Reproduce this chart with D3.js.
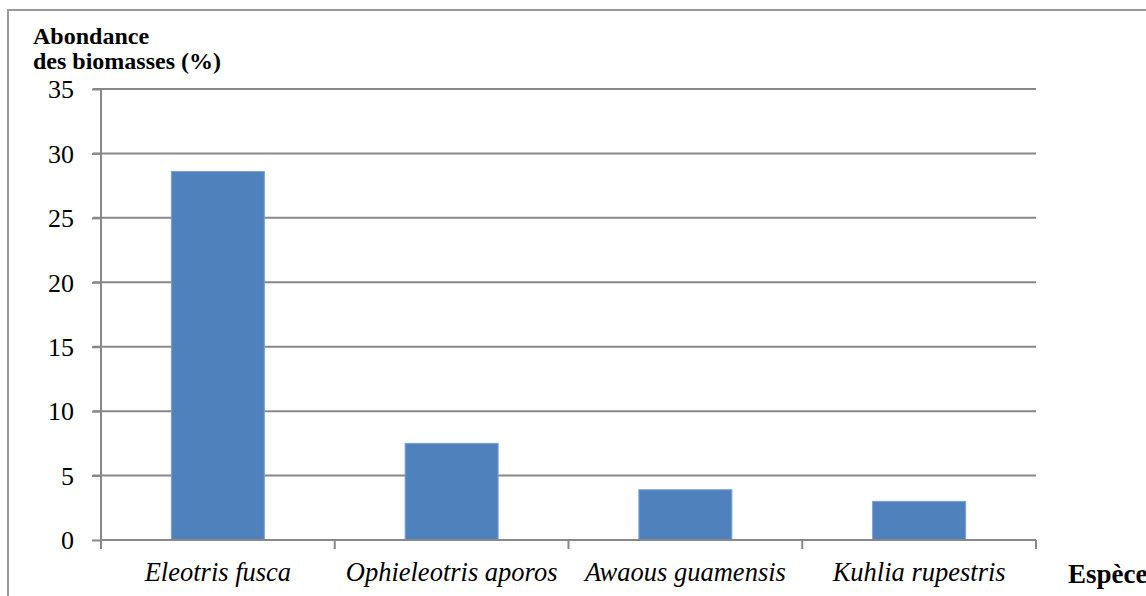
<!DOCTYPE html>
<html><head><meta charset="utf-8">
<script src="https://cdn.jsdelivr.net/npm/d3@7"></script>
<style>body{margin:0;background:#fff}svg{display:block}</style>
</head><body>
<svg id="c" width="1146" height="596"></svg>
<script>
const categories = ["Eleotris fusca","Ophieleotris aporos","Awaous guamensis","Kuhlia rupestris"];
const values = [28.6, 7.5, 3.9, 3.0];
const yTicks = [0,5,10,15,20,25,30,35];
const yTitle = ["Abondance","des biomasses (%)"];
const xTitle = "Espèce";

const svg = d3.select("#c");
const W=1146,H=596;
const m={l:101,r:1036,t:89,b:540};
const font="'Liberation Serif', Cambria, serif";
const grid="#888";

// outer frame
svg.append("path").attr("d",`M8,${H+2} L8,10 L${W+2},10`).attr("fill","none").attr("stroke","#999").attr("stroke-width",2);

const xb=d3.scaleBand().domain(categories).range([m.l,m.r]);
const y=d3.scaleLinear().domain([0,35]).range([m.b,m.t]);

// gridlines
svg.append("g").selectAll("line").data(yTicks.filter(d=>d>0)).join("line")
 .attr("x1",m.l-8).attr("x2",m.r).attr("y1",d=>y(d)).attr("y2",d=>y(d))
 .attr("stroke",grid).attr("stroke-width",2);

// bars
svg.append("g").selectAll("rect").data(values).join("rect")
 .attr("x",(d,i)=>xb(categories[i])+xb.bandwidth()/2-46.5)
 .attr("width",93)
 .attr("y",d=>y(d)).attr("height",d=>y(0)-y(d))
 .attr("fill","#4F81BD").attr("stroke","#7CA1D1").attr("stroke-width",1);

// y axis
const ya=svg.append("g").attr("transform",`translate(${m.l},0)`)
 .call(d3.axisLeft(y).tickValues(yTicks).tickSize(9).tickPadding(18).tickFormat(d3.format("d")));
ya.select(".domain").attr("d",`M0,${m.t}V${m.b+9}`).attr("stroke",grid).attr("stroke-width",2);
ya.selectAll(".tick line").attr("stroke",grid).attr("stroke-width",2);
ya.selectAll(".tick text").attr("font-family",font).attr("font-size",26).attr("fill","#000").attr("dy","0.34em");

// x axis
const xa=svg.append("g").attr("transform",`translate(0,${m.b})`)
 .call(d3.axisBottom(xb).tickSize(0).tickPadding(22));
xa.select(".domain").attr("d",`M${m.l},0H${m.r}`).attr("stroke",grid).attr("stroke-width",2);
xa.selectAll(".tick text").attr("font-family",font).attr("font-size",26.5).attr("font-style","italic").attr("fill","#000");
// category boundary ticks
svg.append("g").selectAll("line").data(categories).join("line")
 .attr("x1",d=>xb(d)+xb.bandwidth()).attr("x2",d=>xb(d)+xb.bandwidth())
 .attr("y1",m.b).attr("y2",m.b+9).attr("stroke",grid).attr("stroke-width",2);

// titles
svg.append("text").attr("x",33).attr("font-family",font).attr("font-weight","bold").attr("font-size",24)
 .selectAll("tspan").data(yTitle).join("tspan").attr("x",33).attr("y",(d,i)=>44+i*25).text(d=>d);
svg.append("text").attr("x",1068).attr("y",583).attr("font-family",font).attr("font-weight","bold").attr("font-size",27).text(xTitle);
</script>
</body></html>
